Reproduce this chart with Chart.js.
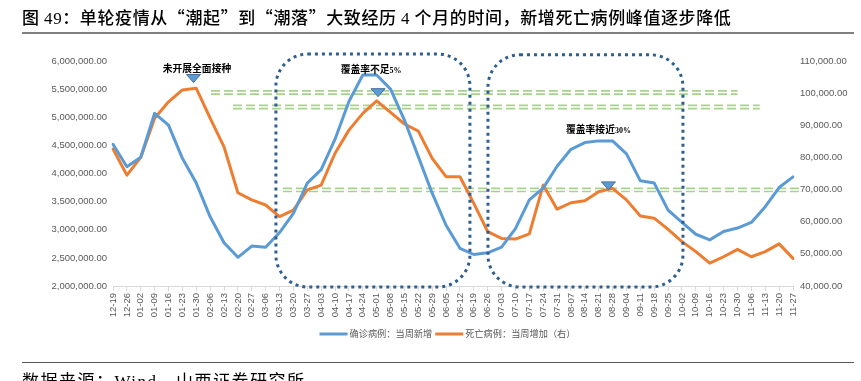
<!DOCTYPE html>
<html><head><meta charset="utf-8">
<script src="https://cdn.jsdelivr.net/npm/chart.js@4.4.1/dist/chart.umd.min.js"></script>
<style>
html,body{margin:0;padding:0;background:#fff;width:861px;height:381px;overflow:hidden}
#wrap{position:relative;width:861px;height:381px}
#c{position:absolute;left:0;top:0}
#title{position:absolute;left:22px;top:8px;font-size:17px;line-height:17px;letter-spacing:0.6px;font-family:"Noto Sans CJK SC";font-weight:500;color:#000;white-space:nowrap}
#title .n{font-family:"Liberation Serif";font-weight:400}
#tline{position:absolute;left:22px;top:32px;width:832px;height:2px;background:#7f7f7f}
#fline{position:absolute;left:22px;top:362px;width:832px;height:1px;background:#595959}
#foot{position:absolute;left:22px;top:371px;font-size:17px;line-height:17px;letter-spacing:1.5px;font-family:"Noto Sans CJK SC";color:#000;white-space:nowrap}
#foot .n{font-family:"Liberation Serif"}
</style></head>
<body><div id="wrap">
<canvas id="c" width="861" height="381"></canvas>
<div id="title">图 <span class="n">49</span>：单轮疫情从“潮起”到“潮落”大致经历 <span class="n">4</span> 个月的时间，新增死亡病例峰值逐步降低</div>
<div id="tline"></div>
<div id="fline"></div>
<div id="foot">数据来源：<span class="n">Wind</span>，山西证券研究所</div>
</div>
<script>
const weeks = ["12-19","12-26","01-02","01-09","01-16","01-23","01-30","02-06","02-13","02-20","02-27","03-06","03-13","03-20","03-27","04-03","04-10","04-17","04-24","05-01","05-08","05-15","05-22","05-29","06-05","06-12","06-19","06-26","07-03","07-10","07-17","07-24","07-31","08-07","08-14","08-21","08-28","09-04","09-11","09-18","09-25","10-02","10-09","10-16","10-23","10-30","11-06","11-13","11-20","11-27"];
const confirmedWeekly = [4520000,4120000,4290000,5070000,4860000,4270000,3830000,3230000,2770000,2510000,2710000,2690000,2950000,3290000,3830000,4070000,4610000,5280000,5750000,5750000,5500000,4950000,4300000,3650000,3080000,2670000,2560000,2590000,2690000,3020000,3530000,3740000,4130000,4430000,4550000,4580000,4580000,4350000,3870000,3830000,3350000,3130000,2920000,2820000,2970000,3030000,3130000,3410000,3750000,3940000];
const deathsWeekly = [82600,74500,80000,92200,97300,101000,101500,92200,83300,69000,66800,65200,61600,63600,69900,71400,81300,88500,93700,97600,94000,90400,88200,79700,74000,74000,65700,56900,54800,54600,56200,71400,63900,65900,66500,69300,70400,66800,61800,61100,57600,53800,50700,47100,49100,51400,49100,50700,53100,48600];
const seriesNames = ["确诊病例：当周新增","死亡病例：当周增加（右）"];
const leftAxisRange = [2000000, 6000000, 500000];
const rightAxisRange = [40000, 110000, 10000];

// annotation anchors (category index, axis value)
const peakLines = [ {from:7.06,to:45.0,value:100200}, {from:8.65,to:46.6,value:95700}, {from:12.25,to:49.5,value:69900} ];
const waveBoxes = [ {from:11.74,to:25.72,top:6124000,bottom:1982000}, {from:27.02,to:41.07,top:6110000,bottom:1982000} ];
const markers = [ {x:5.8,tip:103300}, {x:19.1,tip:98900}, {x:35.7,tip:69900} ];
const notes = [ {x:6.05,y:5876000,main:"未开展全面接种",suffix:""}, {x:18.6,y:5858000,main:"覆盖率不足",suffix:"5%"}, {x:34.98,y:4791000,main:"覆盖率接近",suffix:"30%"} ];

const BLUE='#5B9BD5', ORANGE='#ED7D31';
const fmt = v => Number(v).toLocaleString('en-US',{minimumFractionDigits:2,maximumFractionDigits:2});
const tickFont = {family:'"Liberation Sans", Arial, sans-serif', size:9.5};

const deco = {
  id:'deco',
  beforeDatasetsDraw(chart){
    const ctx=chart.ctx, x=chart.scales.x, yR=chart.scales.y1;
    ctx.save();
    ctx.strokeStyle='#a9d18e'; ctx.lineWidth=1.7; ctx.setLineDash([9,4]);
    peakLines.forEach(g=>{
      const x0=x.getPixelForValue(g.from), x1=x.getPixelForValue(g.to), yy=yR.getPixelForValue(g.value);
      [-1.6,1.6].forEach(o=>{ctx.beginPath();ctx.moveTo(x0,yy+o);ctx.lineTo(x1,yy+o);ctx.stroke();});
    });
    ctx.restore();
  },
  afterDatasetsDraw(chart){
    const ctx=chart.ctx, x=chart.scales.x, yL=chart.scales.y, yR=chart.scales.y1;
    ctx.save();
    ctx.strokeStyle='#2f5f8f'; ctx.lineWidth=3; ctx.setLineDash([3,4]);
    waveBoxes.forEach(b=>{
      const x0=x.getPixelForValue(b.from), x1=x.getPixelForValue(b.to);
      const y0=yL.getPixelForValue(b.top), y1=yL.getPixelForValue(b.bottom);
      ctx.beginPath(); ctx.roundRect(x0,y0,x1-x0,y1-y0,32); ctx.stroke();
    });
    ctx.setLineDash([]);
    markers.forEach(m=>{
      const cx=x.getPixelForValue(m.x), ty=yR.getPixelForValue(m.tip);
      ctx.beginPath(); ctx.moveTo(cx,ty); ctx.lineTo(cx-7,ty-8); ctx.lineTo(cx+7,ty-8); ctx.closePath();
      ctx.fillStyle=BLUE; ctx.fill(); ctx.strokeStyle='#41719c'; ctx.lineWidth=1; ctx.stroke();
    });
    ctx.fillStyle='#000'; ctx.textBaseline='alphabetic'; ctx.textAlign='left';
    notes.forEach(n=>{
      const cx=x.getPixelForValue(n.x), cy=yL.getPixelForValue(n.y);
      const f1='bold 9.8px "Noto Sans CJK SC"', f2='bold 8px "Liberation Serif","Noto Sans CJK SC"';
      ctx.font=f1; const w1=ctx.measureText(n.main).width;
      ctx.font=f2; const w2=n.suffix?ctx.measureText(n.suffix).width:0;
      const sx=cx-(w1+w2)/2, base=cy+3.8;
      ctx.font=f1; ctx.fillText(n.main,sx,base);
      if(n.suffix){ctx.font=f2; ctx.fillText(n.suffix,sx+w1,base);}
    });
    ctx.textBaseline='middle';
    const lf='9.2px "Noto Sans CJK SC"'; ctx.font=lf;
    const items=chart.data.datasets.map(d=>({t:d.label,c:d.borderColor,w:ctx.measureText(d.label).width}));
    const lineLen=28, gapT=2, gapI=3;
    const total=items.reduce((s,it)=>s+lineLen+gapT+it.w,0)+gapI*(items.length-1);
    let lx=447.5-total/2; const ly=334;
    items.forEach(it=>{
      ctx.strokeStyle=it.c; ctx.lineWidth=3; ctx.beginPath(); ctx.moveTo(lx,ly); ctx.lineTo(lx+lineLen,ly); ctx.stroke();
      ctx.fillStyle='#595959'; ctx.fillText(it.t,lx+lineLen+gapT,ly);
      lx+=lineLen+gapT+it.w+gapI;
    });
    ctx.restore();
  }
};

new Chart(document.getElementById('c'),{
  type:'line',
  data:{labels:weeks,datasets:[
    {label:seriesNames[0],data:confirmedWeekly,yAxisID:'y',borderColor:BLUE,backgroundColor:BLUE,borderWidth:3,pointRadius:0,tension:0,borderJoinStyle:'round',borderCapStyle:'round'},
    {label:seriesNames[1],data:deathsWeekly,yAxisID:'y1',borderColor:ORANGE,backgroundColor:ORANGE,borderWidth:3,pointRadius:0,tension:0,borderJoinStyle:'round',borderCapStyle:'round'}
  ]},
  options:{
    responsive:false, animation:false, devicePixelRatio:1,
    layout:{padding:{top:61,left:0,right:0,bottom:45}},
    plugins:{legend:{display:false},tooltip:{enabled:false}},
    scales:{
      x:{grid:{display:true,drawOnChartArea:false,drawTicks:true,tickLength:5,color:'#d9d9d9'},border:{display:true,color:'#d9d9d9'},
         ticks:{autoSkip:false,maxRotation:90,minRotation:90,color:'#595959',font:tickFont,padding:2},
         afterFit(s){s.height=50;}},
      y:{position:'left',min:leftAxisRange[0],max:leftAxisRange[1],grid:{display:false,drawTicks:false},border:{display:false},
         ticks:{stepSize:leftAxisRange[2],callback:fmt,color:'#595959',font:tickFont,padding:6},
         afterFit(s){s.width=113;}},
      y1:{position:'right',min:rightAxisRange[0],max:rightAxisRange[1],grid:{display:false,drawTicks:false},border:{display:false},
         ticks:{stepSize:rightAxisRange[2],callback:fmt,color:'#595959',font:tickFont,padding:7},
         afterFit(s){s.width=68;}}
    }
  },
  plugins:[deco]
});
</script>
</body></html>
